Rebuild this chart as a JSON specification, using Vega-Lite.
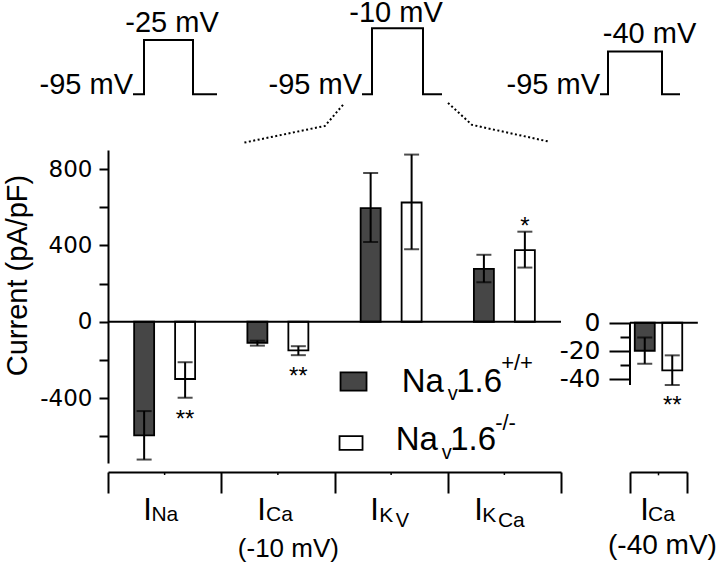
{
  "$schema": "https://vega.github.io/schema/vega-lite/v6.json",
  "background": "white",
  "autosize": {"type": "pad"},
  "padding": {"left": 2, "top": -2, "right": 0, "bottom": 0},
  "config": {"view": {"stroke": null}, "font": "Liberation Sans", "text": {"color": "black"}},
  "bounds": "flush",
  "spacing": 69,
  "resolve": {"scale": {"xOffset": "independent"}},
  "hconcat": [
    {
      "width": 453, "height": 313,
      "resolve": {"scale": {"x": "independent", "y": "independent"}},
      "layer": [
        {
          "data": {"values": [
            {"grp": "INa", "geno": "WT", "mean": -595, "lo": -722, "hi": -468},
            {"grp": "INa", "geno": "KO", "mean": -300, "lo": -398, "hi": -212, "sig": "**"},
            {"grp": "ICa", "geno": "WT", "mean": -110, "lo": -125, "hi": -99},
            {"grp": "ICa", "geno": "KO", "mean": -150, "lo": -175, "hi": -128, "sig": "**"},
            {"grp": "IKv", "geno": "WT", "mean": 595, "lo": 418, "hi": 780},
            {"grp": "IKv", "geno": "KO", "mean": 625, "lo": 380, "hi": 876},
            {"grp": "IKCa", "geno": "WT", "mean": 277, "lo": 207, "hi": 351},
            {"grp": "IKCa", "geno": "KO", "mean": 375, "lo": 284, "hi": 472, "sig": "*"}
          ]},
          "layer": [
            {
              "mark": {"type": "bar", "stroke": "black", "strokeWidth": 1.8},
              "encoding": {
                "x": {"field": "grp", "type": "nominal", "scale": {"domain": ["INa", "ICa", "IKv", "IKCa"], "paddingInner": 0, "paddingOuter": 0}, "axis": {"orient": "bottom", "offset": 9, "title": null, "labels": false, "domainWidth": 2, "domainColor": "black", "tickWidth": 2, "tickColor": "black", "tickSize": 21, "tickBand": "extent", "grid": false}},
                "xOffset": {"field": "geno", "type": "nominal", "scale": {"domain": ["WT", "KO"], "paddingInner": 0.512, "paddingOuter": 0.638}},
                "y": {"field": "mean", "type": "quantitative", "scale": {"domain": [-740, 900], "nice": false, "zero": false}, "axis": {"orient": "left", "title": "Current (pA/pF)", "titleFont": "Liberation Sans", "titleFontSize": 29, "titleFontWeight": "normal", "titleColor": "black", "titleX": -76, "titleY": 125, "values": [-600, -400, -200, 0, 200, 400, 600, 800], "labelExpr": "datum.value % 400 === 0 ? '' + datum.value : ''", "labelFont": "DejaVu Sans", "labelFontSize": 23, "labelColor": "black", "labelPadding": 7, "tickSize": 9, "tickWidth": 2, "tickColor": "black", "domainWidth": 2, "domainColor": "black", "grid": false}},
                "y2": {"datum": 0},
                "fill": {"field": "geno", "type": "nominal", "scale": {"domain": ["WT", "KO"], "range": ["#464646", "#ffffff"]}, "legend": null}
              }
            },
            {
              "data": {"values": [{}]},
              "mark": {"type": "rule", "color": "black", "strokeWidth": 2},
              "encoding": {
                "y": {"datum": 0, "type": "quantitative", "scale": {"domain": [-740, 900], "nice": false, "zero": false}}
              }
            },
            {
              "data": {"values": [{"grp": "INa"}, {"grp": "ICa"}, {"grp": "IKv"}, {"grp": "IKCa"}]},
              "mark": {"type": "rule", "color": "black", "strokeWidth": 1.5, "clip": false},
              "encoding": {
                "x": {"field": "grp", "type": "nominal", "scale": {"domain": ["INa", "ICa", "IKv", "IKCa"]}},
                "y": {"datum": -787, "type": "quantitative", "scale": {"domain": [-740, 900], "nice": false, "zero": false}},
                "y2": {"datum": -803}
              }
            },
            {
              "mark": {"type": "rule", "color": "black", "strokeWidth": 2},
              "encoding": {
                "x": {"field": "grp", "type": "nominal", "scale": {"domain": ["INa", "ICa", "IKv", "IKCa"]}},
                "xOffset": {"field": "geno", "type": "nominal", "scale": {"domain": ["WT", "KO"]}},
                "y": {"field": "lo", "type": "quantitative", "scale": {"domain": [-740, 900], "nice": false, "zero": false}},
                "y2": {"field": "hi"}
              }
            },
            {
              "mark": {"type": "tick", "color": "black", "size": 15, "thickness": 2},
              "encoding": {
                "x": {"field": "grp", "type": "nominal", "scale": {"domain": ["INa", "ICa", "IKv", "IKCa"]}},
                "xOffset": {"field": "geno", "type": "nominal", "scale": {"domain": ["WT", "KO"]}},
                "y": {"field": "lo", "type": "quantitative", "scale": {"domain": [-740, 900], "nice": false, "zero": false}}
              }
            },
            {
              "mark": {"type": "tick", "color": "black", "size": 15, "thickness": 2},
              "encoding": {
                "x": {"field": "grp", "type": "nominal", "scale": {"domain": ["INa", "ICa", "IKv", "IKCa"]}},
                "xOffset": {"field": "geno", "type": "nominal", "scale": {"domain": ["WT", "KO"]}},
                "y": {"field": "hi", "type": "quantitative", "scale": {"domain": [-740, 900], "nice": false, "zero": false}}
              }
            },
            {
              "transform": [{"filter": "datum.sig && datum.mean < 0"}],
              "mark": {"type": "text", "fontSize": 24, "baseline": "alphabetic", "dy": 29},
              "encoding": {
                "x": {"field": "grp", "type": "nominal", "scale": {"domain": ["INa", "ICa", "IKv", "IKCa"]}},
                "xOffset": {"field": "geno", "type": "nominal", "scale": {"domain": ["WT", "KO"]}},
                "y": {"field": "lo", "type": "quantitative", "scale": {"domain": [-740, 900], "nice": false, "zero": false}},
                "text": {"field": "sig"}
              }
            },
            {
              "transform": [{"filter": "datum.sig && datum.mean > 0"}],
              "mark": {"type": "text", "fontSize": 24, "baseline": "alphabetic", "dy": 2},
              "encoding": {
                "x": {"field": "grp", "type": "nominal", "scale": {"domain": ["INa", "ICa", "IKv", "IKCa"]}},
                "xOffset": {"field": "geno", "type": "nominal", "scale": {"domain": ["WT", "KO"]}},
                "y": {"field": "hi", "type": "quantitative", "scale": {"domain": [-740, 900], "nice": false, "zero": false}},
                "text": {"field": "sig"}
              }
            },
            {
              "data": {"values": [{}]},
              "mark": {"type": "point", "shape": "M-1,-0.7H1V0.7H-1Z", "size": 676, "filled": true, "fill": "#464646", "stroke": "black", "strokeWidth": 1.8, "opacity": 1},
              "encoding": {
                "x": {"datum": "IKv", "type": "nominal", "bandPosition": 0.168, "scale": {"domain": ["INa", "ICa", "IKv", "IKCa"]}},
                "y": {"datum": -313, "type": "quantitative", "scale": {"domain": [-740, 900], "nice": false, "zero": false}}
              }
            },
            {
              "data": {"values": [{}]},
              "mark": {"type": "point", "shape": "M-1,-0.6H1V0.6H-1Z", "size": 529, "filled": true, "fill": "#ffffff", "stroke": "black", "strokeWidth": 1.8, "opacity": 1},
              "encoding": {
                "x": {"datum": "IKv", "type": "nominal", "bandPosition": 0.146, "scale": {"domain": ["INa", "ICa", "IKv", "IKCa"]}},
                "y": {"datum": -635, "type": "quantitative", "scale": {"domain": [-740, 900], "nice": false, "zero": false}}
              }
            },
            {
              "data": {"values": [{"piece": "Na"}]},
              "mark": {"type": "text", "align": "left", "baseline": "alphabetic", "fontSize": 33, "dx": 10.5},
              "encoding": {
                "x": {"datum": "IKv", "type": "nominal", "scale": {"domain": ["INa", "ICa", "IKv", "IKCa"]}},
                "y": {"datum": -366, "type": "quantitative", "scale": {"domain": [-740, 900], "nice": false, "zero": false}},
                "text": {"field": "piece"}
              }
            },
            {
              "data": {"values": [{"piece": "v"}]},
              "mark": {"type": "text", "align": "left", "baseline": "alphabetic", "fontSize": 20, "dx": 56.5, "dy": 8},
              "encoding": {
                "x": {"datum": "IKv", "type": "nominal", "scale": {"domain": ["INa", "ICa", "IKv", "IKCa"]}},
                "y": {"datum": -366, "type": "quantitative", "scale": {"domain": [-740, 900], "nice": false, "zero": false}},
                "text": {"field": "piece"}
              }
            },
            {
              "data": {"values": [{"piece": "1.6"}]},
              "mark": {"type": "text", "align": "left", "baseline": "alphabetic", "fontSize": 33, "dx": 65},
              "encoding": {
                "x": {"datum": "IKv", "type": "nominal", "scale": {"domain": ["INa", "ICa", "IKv", "IKCa"]}},
                "y": {"datum": -366, "type": "quantitative", "scale": {"domain": [-740, 900], "nice": false, "zero": false}},
                "text": {"field": "piece"}
              }
            },
            {
              "data": {"values": [{"piece": "+/+"}]},
              "mark": {"type": "text", "align": "left", "baseline": "alphabetic", "fontSize": 22, "dx": 110, "dy": -22},
              "encoding": {
                "x": {"datum": "IKv", "type": "nominal", "scale": {"domain": ["INa", "ICa", "IKv", "IKCa"]}},
                "y": {"datum": -366, "type": "quantitative", "scale": {"domain": [-740, 900], "nice": false, "zero": false}},
                "text": {"field": "piece"}
              }
            },
            {
              "data": {"values": [{"piece": "Na"}]},
              "mark": {"type": "text", "align": "left", "baseline": "alphabetic", "fontSize": 33, "dx": 4.5},
              "encoding": {
                "x": {"datum": "IKv", "type": "nominal", "scale": {"domain": ["INa", "ICa", "IKv", "IKCa"]}},
                "y": {"datum": -672, "type": "quantitative", "scale": {"domain": [-740, 900], "nice": false, "zero": false}},
                "text": {"field": "piece"}
              }
            },
            {
              "data": {"values": [{"piece": "v"}]},
              "mark": {"type": "text", "align": "left", "baseline": "alphabetic", "fontSize": 20, "dx": 50.5, "dy": 9},
              "encoding": {
                "x": {"datum": "IKv", "type": "nominal", "scale": {"domain": ["INa", "ICa", "IKv", "IKCa"]}},
                "y": {"datum": -672, "type": "quantitative", "scale": {"domain": [-740, 900], "nice": false, "zero": false}},
                "text": {"field": "piece"}
              }
            },
            {
              "data": {"values": [{"piece": "1.6"}]},
              "mark": {"type": "text", "align": "left", "baseline": "alphabetic", "fontSize": 33, "dx": 59},
              "encoding": {
                "x": {"datum": "IKv", "type": "nominal", "scale": {"domain": ["INa", "ICa", "IKv", "IKCa"]}},
                "y": {"datum": -672, "type": "quantitative", "scale": {"domain": [-740, 900], "nice": false, "zero": false}},
                "text": {"field": "piece"}
              }
            },
            {
              "data": {"values": [{"piece": "-/-"}]},
              "mark": {"type": "text", "align": "left", "baseline": "alphabetic", "fontSize": 22, "dx": 104, "dy": -20},
              "encoding": {
                "x": {"datum": "IKv", "type": "nominal", "scale": {"domain": ["INa", "ICa", "IKv", "IKCa"]}},
                "y": {"datum": -672, "type": "quantitative", "scale": {"domain": [-740, 900], "nice": false, "zero": false}},
                "text": {"field": "piece"}
              }
            },
            {
              "data": {"values": [{"grp": "INa", "piece": "I"}]},
              "mark": {"type": "text", "align": "left", "baseline": "alphabetic", "fontSize": 31, "dx": -21.3},
              "encoding": {
                "x": {"field": "grp", "type": "nominal", "scale": {"domain": ["INa", "ICa", "IKv", "IKCa"]}},
                "y": {"datum": -1038, "type": "quantitative", "scale": {"domain": [-740, 900], "nice": false, "zero": false}},
                "text": {"field": "piece"}
              }
            },
            {
              "data": {"values": [{"grp": "INa", "piece": "Na"}]},
              "mark": {"type": "text", "align": "left", "baseline": "alphabetic", "fontSize": 21, "dx": -13.2, "dy": 1},
              "encoding": {
                "x": {"field": "grp", "type": "nominal", "scale": {"domain": ["INa", "ICa", "IKv", "IKCa"]}},
                "y": {"datum": -1038, "type": "quantitative", "scale": {"domain": [-740, 900], "nice": false, "zero": false}},
                "text": {"field": "piece"}
              }
            },
            {
              "data": {"values": [{"grp": "ICa", "piece": "I"}]},
              "mark": {"type": "text", "align": "left", "baseline": "alphabetic", "fontSize": 31, "dx": -20.6},
              "encoding": {
                "x": {"field": "grp", "type": "nominal", "scale": {"domain": ["INa", "ICa", "IKv", "IKCa"]}},
                "y": {"datum": -1038, "type": "quantitative", "scale": {"domain": [-740, 900], "nice": false, "zero": false}},
                "text": {"field": "piece"}
              }
            },
            {
              "data": {"values": [{"grp": "ICa", "piece": "Ca"}]},
              "mark": {"type": "text", "align": "left", "baseline": "alphabetic", "fontSize": 21, "dx": -11.9, "dy": 1},
              "encoding": {
                "x": {"field": "grp", "type": "nominal", "scale": {"domain": ["INa", "ICa", "IKv", "IKCa"]}},
                "y": {"datum": -1038, "type": "quantitative", "scale": {"domain": [-740, 900], "nice": false, "zero": false}},
                "text": {"field": "piece"}
              }
            },
            {
              "data": {"values": [{"grp": "ICa", "piece": "(-10 mV)"}]},
              "mark": {"type": "text", "align": "center", "baseline": "alphabetic", "fontSize": 26, "dx": 10.5},
              "encoding": {
                "x": {"field": "grp", "type": "nominal", "scale": {"domain": ["INa", "ICa", "IKv", "IKCa"]}},
                "y": {"datum": -1232, "type": "quantitative", "scale": {"domain": [-740, 900], "nice": false, "zero": false}},
                "text": {"field": "piece"}
              }
            },
            {
              "data": {"values": [{"grp": "IKv", "piece": "I"}]},
              "mark": {"type": "text", "align": "left", "baseline": "alphabetic", "fontSize": 31, "dx": -20.8},
              "encoding": {
                "x": {"field": "grp", "type": "nominal", "scale": {"domain": ["INa", "ICa", "IKv", "IKCa"]}},
                "y": {"datum": -1038, "type": "quantitative", "scale": {"domain": [-740, 900], "nice": false, "zero": false}},
                "text": {"field": "piece"}
              }
            },
            {
              "data": {"values": [{"grp": "IKv", "piece": "K"}]},
              "mark": {"type": "text", "align": "left", "baseline": "alphabetic", "fontSize": 21, "dx": -11.8, "dy": 2},
              "encoding": {
                "x": {"field": "grp", "type": "nominal", "scale": {"domain": ["INa", "ICa", "IKv", "IKCa"]}},
                "y": {"datum": -1038, "type": "quantitative", "scale": {"domain": [-740, 900], "nice": false, "zero": false}},
                "text": {"field": "piece"}
              }
            },
            {
              "data": {"values": [{"grp": "IKv", "piece": "V"}]},
              "mark": {"type": "text", "align": "left", "baseline": "alphabetic", "fontSize": 20, "dx": 4.5, "dy": 7},
              "encoding": {
                "x": {"field": "grp", "type": "nominal", "scale": {"domain": ["INa", "ICa", "IKv", "IKCa"]}},
                "y": {"datum": -1038, "type": "quantitative", "scale": {"domain": [-740, 900], "nice": false, "zero": false}},
                "text": {"field": "piece"}
              }
            },
            {
              "data": {"values": [{"grp": "IKCa", "piece": "I"}]},
              "mark": {"type": "text", "align": "left", "baseline": "alphabetic", "fontSize": 31, "dx": -30.1},
              "encoding": {
                "x": {"field": "grp", "type": "nominal", "scale": {"domain": ["INa", "ICa", "IKv", "IKCa"]}},
                "y": {"datum": -1038, "type": "quantitative", "scale": {"domain": [-740, 900], "nice": false, "zero": false}},
                "text": {"field": "piece"}
              }
            },
            {
              "data": {"values": [{"grp": "IKCa", "piece": "K"}]},
              "mark": {"type": "text", "align": "left", "baseline": "alphabetic", "fontSize": 21, "dx": -22.1, "dy": 2},
              "encoding": {
                "x": {"field": "grp", "type": "nominal", "scale": {"domain": ["INa", "ICa", "IKv", "IKCa"]}},
                "y": {"datum": -1038, "type": "quantitative", "scale": {"domain": [-740, 900], "nice": false, "zero": false}},
                "text": {"field": "piece"}
              }
            },
            {
              "data": {"values": [{"grp": "IKCa", "piece": "Ca"}]},
              "mark": {"type": "text", "align": "left", "baseline": "alphabetic", "fontSize": 21, "dx": -6.5, "dy": 7},
              "encoding": {
                "x": {"field": "grp", "type": "nominal", "scale": {"domain": ["INa", "ICa", "IKv", "IKCa"]}},
                "y": {"datum": -1038, "type": "quantitative", "scale": {"domain": [-740, 900], "nice": false, "zero": false}},
                "text": {"field": "piece"}
              }
            }
          ]
        },
        {
          "layer": [
            {
              "data": {"values": [{"i": 0, "t": 0, "v": -95}, {"i": 1, "t": 11, "v": -95}, {"i": 2, "t": 11, "v": -25}, {"i": 3, "t": 60, "v": -25}, {"i": 4, "t": 60, "v": -95}, {"i": 5, "t": 84, "v": -95}]},
              "mark": {"type": "line", "color": "black", "strokeWidth": 2, "clip": false},
              "encoding": {
                "x": {"field": "t", "type": "quantitative", "scale": {"domain": [-25, 428], "nice": false, "zero": false}, "axis": null},
                "y": {"field": "v", "type": "quantitative", "scale": {"domain": [-569.2, -166.6], "nice": false, "zero": false}, "axis": null},
                "order": {"field": "i", "type": "quantitative"}
              }
            },
            {
              "data": {"values": [{}]},
              "mark": {"type": "text", "align": "right", "baseline": "alphabetic", "fontSize": 29},
              "encoding": {
                "x": {"datum": 0, "type": "quantitative", "scale": {"domain": [-25, 428], "nice": false, "zero": false}, "axis": null},
                "y": {"datum": -95, "type": "quantitative", "scale": {"domain": [-569.2, -166.6], "nice": false, "zero": false}, "axis": null},
                "text": {"value": "-95 mV"}
              }
            },
            {
              "data": {"values": [{}]},
              "mark": {"type": "text", "align": "center", "baseline": "alphabetic", "fontSize": 29, "dx": 3.5, "dy": -8},
              "encoding": {
                "x": {"datum": 35.5, "type": "quantitative", "scale": {"domain": [-25, 428], "nice": false, "zero": false}, "axis": null},
                "y": {"datum": -25, "type": "quantitative", "scale": {"domain": [-569.2, -166.6], "nice": false, "zero": false}, "axis": null},
                "text": {"value": "-25 mV"}
              }
            }
          ]
        },
        {
          "layer": [
            {
              "data": {"values": [{"i": 0, "t": 0, "v": -95}, {"i": 1, "t": 10, "v": -95}, {"i": 2, "t": 10, "v": -10}, {"i": 3, "t": 61, "v": -10}, {"i": 4, "t": 61, "v": -95}, {"i": 5, "t": 80, "v": -95}]},
              "mark": {"type": "line", "color": "black", "strokeWidth": 2, "clip": false},
              "encoding": {
                "x": {"field": "t", "type": "quantitative", "scale": {"domain": [-254, 199], "nice": false, "zero": false}, "axis": null},
                "y": {"field": "v", "type": "quantitative", "scale": {"domain": [-569.2, -166.6], "nice": false, "zero": false}, "axis": null},
                "order": {"field": "i", "type": "quantitative"}
              }
            },
            {
              "data": {"values": [
                {"side": "left", "i": 0, "t": -19, "v": -108.5}, {"side": "left", "i": 1, "t": -37, "v": -135.6}, {"side": "left", "i": 2, "t": -119, "v": -157.4},
                {"side": "right", "i": 0, "t": 86, "v": -106}, {"side": "right", "i": 1, "t": 110, "v": -134.3}, {"side": "right", "i": 2, "t": 188, "v": -156.1}
              ]},
              "mark": {"type": "line", "color": "black", "strokeWidth": 2, "strokeDash": [2, 2.5], "clip": false},
              "encoding": {
                "x": {"field": "t", "type": "quantitative", "scale": {"domain": [-254, 199], "nice": false, "zero": false}, "axis": null},
                "y": {"field": "v", "type": "quantitative", "scale": {"domain": [-569.2, -166.6], "nice": false, "zero": false}, "axis": null},
                "detail": {"field": "side", "type": "nominal"},
                "order": {"field": "i", "type": "quantitative"}
              }
            },
            {
              "data": {"values": [{}]},
              "mark": {"type": "text", "align": "right", "baseline": "alphabetic", "fontSize": 29},
              "encoding": {
                "x": {"datum": 0, "type": "quantitative", "scale": {"domain": [-254, 199], "nice": false, "zero": false}, "axis": null},
                "y": {"datum": -95, "type": "quantitative", "scale": {"domain": [-569.2, -166.6], "nice": false, "zero": false}, "axis": null},
                "text": {"value": "-95 mV"}
              }
            },
            {
              "data": {"values": [{}]},
              "mark": {"type": "text", "align": "center", "baseline": "alphabetic", "fontSize": 29, "dx": -1.5, "dy": -6.6},
              "encoding": {
                "x": {"datum": 35.5, "type": "quantitative", "scale": {"domain": [-254, 199], "nice": false, "zero": false}, "axis": null},
                "y": {"datum": -10, "type": "quantitative", "scale": {"domain": [-569.2, -166.6], "nice": false, "zero": false}, "axis": null},
                "text": {"value": "-10 mV"}
              }
            }
          ]
        },
        {
          "layer": [
            {
              "data": {"values": [{"i": 0, "t": 0, "v": -95}, {"i": 1, "t": 8, "v": -95}, {"i": 2, "t": 8, "v": -40}, {"i": 3, "t": 62, "v": -40}, {"i": 4, "t": 62, "v": -95}, {"i": 5, "t": 80, "v": -95}]},
              "mark": {"type": "line", "color": "black", "strokeWidth": 2, "clip": false},
              "encoding": {
                "x": {"field": "t", "type": "quantitative", "scale": {"domain": [-492, -39], "nice": false, "zero": false}, "axis": null},
                "y": {"field": "v", "type": "quantitative", "scale": {"domain": [-569.2, -166.6], "nice": false, "zero": false}, "axis": null},
                "order": {"field": "i", "type": "quantitative"}
              }
            },
            {
              "data": {"values": [{}]},
              "mark": {"type": "text", "align": "right", "baseline": "alphabetic", "fontSize": 29},
              "encoding": {
                "x": {"datum": 0, "type": "quantitative", "scale": {"domain": [-492, -39], "nice": false, "zero": false}, "axis": null},
                "y": {"datum": -95, "type": "quantitative", "scale": {"domain": [-569.2, -166.6], "nice": false, "zero": false}, "axis": null},
                "text": {"value": "-95 mV"}
              }
            },
            {
              "data": {"values": [{}]},
              "mark": {"type": "text", "align": "center", "baseline": "alphabetic", "fontSize": 29, "dx": 14.5, "dy": -8.6},
              "encoding": {
                "x": {"datum": 35, "type": "quantitative", "scale": {"domain": [-492, -39], "nice": false, "zero": false}, "axis": null},
                "y": {"datum": -40, "type": "quantitative", "scale": {"domain": [-569.2, -166.6], "nice": false, "zero": false}, "axis": null},
                "text": {"value": "-40 mV"}
              }
            }
          ]
        }
      ]
    },
    {
      "width": 57, "height": 313,
      "data": {"values": [
        {"grp": "ICa40", "geno": "WT", "mean": -20, "lo": -29.3, "hi": -10.6},
        {"grp": "ICa40", "geno": "KO", "mean": -34, "lo": -44.5, "hi": -23.3, "sig": "**"}
      ]},
      "layer": [
        {
          "mark": {"type": "bar", "stroke": "black", "strokeWidth": 1.8},
          "encoding": {
            "x": {"field": "grp", "type": "nominal", "scale": {"domain": ["ICa40"], "paddingInner": 0, "paddingOuter": 0}, "axis": {"orient": "bottom", "offset": 9, "title": null, "labels": false, "domainWidth": 2, "domainColor": "black", "tickWidth": 2, "tickColor": "black", "tickSize": 21, "tickBand": "extent", "grid": false}},
            "xOffset": {"field": "geno", "type": "nominal", "scale": {"domain": ["WT", "KO"], "paddingInner": 0.273, "paddingOuter": 0.173}},
            "y": {"field": "mean", "type": "quantitative", "scale": {"domain": [-100.2, 123.4], "nice": false, "zero": false}, "axis": {"orient": "left", "title": null, "values": [0, -10, -20, -30, -40], "labelExpr": "datum.value % 20 === 0 ? '' + datum.value : ''", "labelFont": "DejaVu Sans", "labelFontSize": 25, "labelColor": "black", "labelPadding": 9, "tickSize": {"condition": {"test": "datum.value % 20 === 0", "value": 21}, "value": 10}, "tickWidth": 2, "tickColor": "black", "domain": false, "grid": false}},
            "y2": {"datum": 0},
            "fill": {"field": "geno", "type": "nominal", "scale": {"domain": ["WT", "KO"], "range": ["#464646", "#ffffff"]}, "legend": null}
          }
        },
        {
          "data": {"values": [{}]},
          "mark": {"type": "rule", "color": "black", "strokeWidth": 2},
          "encoding": {
            "x": {"datum": "ICa40", "type": "nominal", "bandPosition": 0, "scale": {"domain": ["ICa40"]}},
            "x2": {"datum": "ICa40", "bandPosition": 1.19},
            "y": {"datum": 0, "type": "quantitative", "scale": {"domain": [-100.2, 123.4], "nice": false, "zero": false}}
          }
        },
        {
          "data": {"values": [{}]},
          "mark": {"type": "rule", "color": "black", "strokeWidth": 2},
          "encoding": {
            "x": {"datum": "ICa40", "type": "nominal", "bandPosition": 0, "scale": {"domain": ["ICa40"]}},
            "y": {"datum": 0, "type": "quantitative", "scale": {"domain": [-100.2, 123.4], "nice": false, "zero": false}},
            "y2": {"datum": -44.5}
          }
        },
        {
          "data": {"values": [{"grp": "ICa40"}]},
          "mark": {"type": "rule", "color": "black", "strokeWidth": 1.5, "clip": false},
          "encoding": {
            "x": {"field": "grp", "type": "nominal", "scale": {"domain": ["ICa40"]}},
            "y": {"datum": -106.6, "type": "quantitative", "scale": {"domain": [-100.2, 123.4], "nice": false, "zero": false}},
            "y2": {"datum": -109}
          }
        },
        {
          "mark": {"type": "rule", "color": "black", "strokeWidth": 2},
          "encoding": {
            "x": {"field": "grp", "type": "nominal", "scale": {"domain": ["ICa40"]}},
            "xOffset": {"field": "geno", "type": "nominal", "scale": {"domain": ["WT", "KO"]}},
            "y": {"field": "lo", "type": "quantitative", "scale": {"domain": [-100.2, 123.4], "nice": false, "zero": false}},
            "y2": {"field": "hi"}
          }
        },
        {
          "mark": {"type": "tick", "color": "black", "size": 15, "thickness": 2},
          "encoding": {
            "x": {"field": "grp", "type": "nominal", "scale": {"domain": ["ICa40"]}},
            "xOffset": {"field": "geno", "type": "nominal", "scale": {"domain": ["WT", "KO"]}},
            "y": {"field": "lo", "type": "quantitative", "scale": {"domain": [-100.2, 123.4], "nice": false, "zero": false}}
          }
        },
        {
          "mark": {"type": "tick", "color": "black", "size": 15, "thickness": 2},
          "encoding": {
            "x": {"field": "grp", "type": "nominal", "scale": {"domain": ["ICa40"]}},
            "xOffset": {"field": "geno", "type": "nominal", "scale": {"domain": ["WT", "KO"]}},
            "y": {"field": "hi", "type": "quantitative", "scale": {"domain": [-100.2, 123.4], "nice": false, "zero": false}}
          }
        },
        {
          "transform": [{"filter": "datum.sig"}],
          "mark": {"type": "text", "fontSize": 24, "baseline": "alphabetic", "dy": 28},
          "encoding": {
            "x": {"field": "grp", "type": "nominal", "scale": {"domain": ["ICa40"]}},
            "xOffset": {"field": "geno", "type": "nominal", "scale": {"domain": ["WT", "KO"]}},
            "y": {"field": "lo", "type": "quantitative", "scale": {"domain": [-100.2, 123.4], "nice": false, "zero": false}},
            "text": {"field": "sig"}
          }
        },
        {
          "data": {"values": [{"grp": "ICa40", "piece": "I"}]},
          "mark": {"type": "text", "align": "left", "baseline": "alphabetic", "fontSize": 31, "dx": -18.2},
          "encoding": {
            "x": {"field": "grp", "type": "nominal", "scale": {"domain": ["ICa40"]}},
            "y": {"datum": -140.9, "type": "quantitative", "scale": {"domain": [-100.2, 123.4], "nice": false, "zero": false}},
            "text": {"field": "piece"}
          }
        },
        {
          "data": {"values": [{"grp": "ICa40", "piece": "Ca"}]},
          "mark": {"type": "text", "align": "left", "baseline": "alphabetic", "fontSize": 21, "dx": -10.5, "dy": 1},
          "encoding": {
            "x": {"field": "grp", "type": "nominal", "scale": {"domain": ["ICa40"]}},
            "y": {"datum": -140.9, "type": "quantitative", "scale": {"domain": [-100.2, 123.4], "nice": false, "zero": false}},
            "text": {"field": "piece"}
          }
        },
        {
          "data": {"values": [{"grp": "ICa40", "piece": "(-40 mV)"}]},
          "mark": {"type": "text", "align": "center", "baseline": "alphabetic", "fontSize": 28, "dx": 4},
          "encoding": {
            "x": {"field": "grp", "type": "nominal", "scale": {"domain": ["ICa40"]}},
            "y": {"datum": -165.5, "type": "quantitative", "scale": {"domain": [-100.2, 123.4], "nice": false, "zero": false}},
            "text": {"field": "piece"}
          }
        }
      ]
    }
  ]
}
